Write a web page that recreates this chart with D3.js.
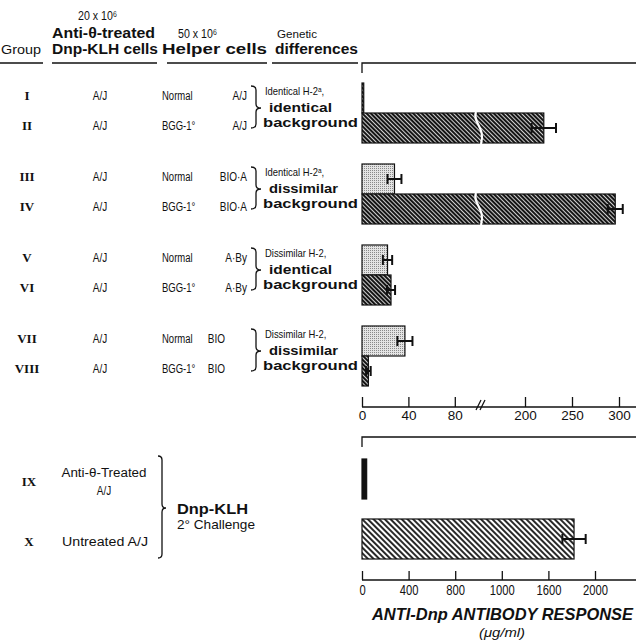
<!doctype html>
<html lang="en">
<head>
<meta charset="UTF-8" />
<title>Anti-Dnp antibody response</title>
<script src="https://d3js.org/d3.v7.min.js"></script>
<style>
  body { margin: 0; background: #fff; }
  svg { display: block; }
  .nar { font-family: "Liberation Sans", Arial, "DejaVu Sans", sans-serif; }
  .bold { font-family: "Liberation Sans", Arial, sans-serif; font-weight: bold; }
  .rom { font-family: "Liberation Serif", serif; font-weight: bold; }
</style>
</head>
<body>
<div id="graph"></div>
<script>
// ---- data ----
var groups = ["I", "II", "III", "IV", "V", "VI", "VII", "VIII"];
var donorCells = ["A/J", "A/J", "A/J", "A/J", "A/J", "A/J", "A/J", "A/J"];
var helperPrim = ["Normal", "BGG-1°", "Normal", "BGG-1°", "Normal", "BGG-1°", "Normal", "BGG-1°"];
var helperStrain = ["A/J", "A/J", "BIO·A", "BIO·A", "A·By", "A·By", "BIO", "BIO"];
var response = [1.5, 220, 28, 296, 22, 25, 37, 5.5];
var sem = [0, 13, 6, 8, 4, 3.5, 6.5, 2];
var barFill = ["dark", "dark", "light", "dark", "light", "dark", "light", "dark"];

var geneH2 = ["Identical H-2ᵃ,", "Identical H-2ᵃ,", "Dissimilar H-2,", "Dissimilar H-2,"];
var geneBack = ["identical", "dissimilar", "identical", "dissimilar"];

var groups2 = ["IX", "X"];
var cells2 = [["Anti-θ-Treated", "A/J"], ["Untreated   A/J"]];
var response2 = [40, 1820];
var sem2 = [0, 100];

var topTicks = [0, 40, 80, 200, 250, 300];
var botTicks = [0, 400, 800, 1200, 1600, 2000];
var botTickLabels = ["0", "400", "800", "1000", "1600", "2000"];

var width = 636, height = 644;

var svg = d3.select("#graph").append("svg")
    .attr("width", width)
    .attr("height", height);

// patterns
var defs = svg.append("defs");
var pd = defs.append("pattern").attr("id", "dark").attr("width", 3).attr("height", 3)
    .attr("patternUnits", "userSpaceOnUse").attr("patternTransform", "rotate(-45)");
pd.append("rect").attr("width", 3).attr("height", 3).attr("fill", "#151515");
pd.append("line").attr("x1", 0.5).attr("y1", 0).attr("x2", 0.5).attr("y2", 3)
    .attr("stroke", "#fff").attr("stroke-width", 0.8);

var ps = defs.append("pattern").attr("id", "stripe").attr("width", 4).attr("height", 4)
    .attr("patternUnits", "userSpaceOnUse").attr("patternTransform", "rotate(-45)");
ps.append("rect").attr("width", 4).attr("height", 4).attr("fill", "#fff");
ps.append("line").attr("x1", 1).attr("y1", 0).attr("x2", 1).attr("y2", 4)
    .attr("stroke", "#111").attr("stroke-width", 1.8);

var pl = defs.append("pattern").attr("id", "light").attr("width", 2).attr("height", 2)
    .attr("patternUnits", "userSpaceOnUse");
pl.append("rect").attr("width", 2).attr("height", 2).attr("fill", "#e4e4e4");
pl.append("rect").attr("width", 1).attr("height", 1).attr("fill", "#8a8a8a");

// scales
var xTop = d3.scaleLinear().domain([0, 100, 150, 300]).range([362, 478, 478, 619]);
var xBot = d3.scaleLinear().domain([0, 2000]).range([362, 595]);

var pairs = [0, 1, 2, 3];
var yPair = d3.scaleBand().domain(pairs).range([83, 386]).paddingInner(21 / 81);
var ySub = d3.scaleBand().domain([0, 1]).range([0, yPair.bandwidth()]);
function rowY(i) { return yPair(Math.floor(i / 2)) + ySub(i % 2); }
var bh = ySub.bandwidth();

var yBot = d3.scaleBand().domain([0, 1]).range([459, 559]).paddingInner(1 / 3);

// squeeze a text horizontally (the figure uses a condensed face)
function squeeze(t, f) {
  var n = t.node().getComputedTextLength();
  t.attr("textLength", n * f).attr("lengthAdjust", "spacingAndGlyphs");
}

function txt(x, y, s, cls, size, opts) {
  opts = opts || {};
  var t = svg.append("text").attr("x", x).attr("y", y).attr("class", cls)
      .attr("font-size", size).attr("fill", "#111").text(s);
  if (opts.anchor) t.attr("text-anchor", opts.anchor);
  if (opts.italic) t.attr("font-style", "italic");
  if (opts.len) t.attr("textLength", opts.len).attr("lengthAdjust", "spacingAndGlyphs");
  else if (cls === "nar") squeeze(t, opts.sq || 0.8);
  return t;
}

function brace(x, y0, y1, ym, w) {
  var h = w / 2, r = 4;
  var p = "M" + x + "," + y0 +
    " Q" + (x + h) + "," + y0 + " " + (x + h) + "," + (y0 + r) +
    " L" + (x + h) + "," + (ym - r) +
    " Q" + (x + h) + "," + ym + " " + (x + w) + "," + ym +
    " Q" + (x + h) + "," + ym + " " + (x + h) + "," + (ym + r) +
    " L" + (x + h) + "," + (y1 - r) +
    " Q" + (x + h) + "," + y1 + " " + x + "," + y1;
  svg.append("path").attr("d", p).attr("fill", "none").attr("stroke", "#111").attr("stroke-width", 1.3);
}

// ---- header ----
txt(78, 20, "20 x 10⁶", "nar", 12.5, { sq: 0.85 });
txt(52, 38, "Anti-θ-treated", "bold", 14.5, { len: 103 });
txt(52, 54, "Dnp-KLH cells", "bold", 14.5, { len: 106 });
txt(178, 38, "50 x 10⁶", "nar", 12.5, { sq: 0.85 });
txt(162, 54, "Helper cells", "bold", 14.5, { len: 105 });
txt(277, 38, "Genetic", "nar", 11.5, { len: 40 });
txt(275, 54, "differences", "bold", 14.5, { len: 83 });
txt(1, 54, "Group", "nar", 12.5, { len: 40 });

[[0, 43], [52, 157], [167, 267], [272, 358]].forEach(function(u) {
  svg.append("line").attr("x1", u[0]).attr("x2", u[1]).attr("y1", 63).attr("y2", 63)
    .attr("stroke", "#111").attr("stroke-width", 1.3);
});

// ---- top panel rows ----
groups.forEach(function(g, i) {
  var cy = rowY(i) + bh / 2;
  txt(27, cy + 2, g, "rom", 13, { anchor: "middle" });
  txt(100, cy + 2, donorCells[i], "nar", 12.5, { anchor: "middle" });
  txt(162, cy + 2, helperPrim[i], "nar", 12.5, { sq: 0.76 });
  txt(helperStrain[i] === "BIO" ? 225 : 247, cy + 2, helperStrain[i], "nar", 12.5, { anchor: "end" });
});

pairs.forEach(function(p) {
  var y0 = yPair(p), mid = y0 + yPair.bandwidth() / 2;
  brace(251, y0 + 3, y0 + yPair.bandwidth() - 15, mid - 5, 10);
  txt(265, mid - 18, geneH2[p], "nar", 11.5, { sq: 0.82 });
  txt(269, mid - 1, geneBack[p], "bold", 13, { len: geneBack[p] === "identical" ? 63 : 69 });
  txt(263, mid + 14, "background", "bold", 13, { len: 95 });
});

// bracket above top panel
svg.append("path").attr("d", "M362,73 V63 H636").attr("fill", "none")
  .attr("stroke", "#111").attr("stroke-width", 1.3);

// bars
var bars = svg.append("g");
bars.selectAll("rect").data(response).enter().append("rect")
  .attr("x", xTop(0))
  .attr("y", function(d, i) { return rowY(i); })
  .attr("width", function(d) { return xTop(d) - xTop(0); })
  .attr("height", bh)
  .attr("fill", function(d, i) { return "url(#" + barFill[i] + ")"; })
  .attr("stroke", "#111")
  .attr("stroke-width", 1.2);

// axis break through long bars
response.forEach(function(d, i) {
  if (d > 150) {
    var y0 = rowY(i) - 1, y1 = rowY(i) + bh + 1, x = xTop(125);
    svg.append("path")
      .attr("d", "M" + (x - 2) + "," + y0 + " C" + (x - 6) + "," + (y0 + 10) + " " + (x + 8) + "," + (y0 + 16) + " " + (x + 3) + "," + y1)
      .attr("fill", "none").attr("stroke", "#fff").attr("stroke-width", 2.2);
  }
});

// error bars
function errBar(x0, x1, y) {
  var g = svg.append("g").attr("stroke", "#111").attr("stroke-width", 2);
  g.append("line").attr("x1", x0).attr("x2", x1).attr("y1", y).attr("y2", y);
  g.append("line").attr("x1", x0).attr("x2", x0).attr("y1", y - 5).attr("y2", y + 5);
  g.append("line").attr("x1", x1).attr("x2", x1).attr("y1", y - 5).attr("y2", y + 5);
}
response.forEach(function(d, i) {
  if (sem[i] > 0) errBar(xTop(d - sem[i]), xTop(d + sem[i]), rowY(i) + bh / 2);
});

// top axis
var axTop = svg.append("g").attr("transform", "translate(0,407)")
  .call(d3.axisBottom(xTop).tickValues(topTicks).tickSize(-10).tickPadding(3).tickFormat(d3.format("d")));
axTop.select(".domain").remove();
axTop.selectAll("line").attr("stroke", "#111").attr("stroke-width", 1.3);
axTop.selectAll("text").attr("font-family", "Liberation Sans, sans-serif").attr("font-size", 13.5).attr("fill", "#111");
svg.append("line").attr("x1", 362).attr("x2", 636).attr("y1", 407).attr("y2", 407)
  .attr("stroke", "#111").attr("stroke-width", 1.3);
[0, 4].forEach(function(o) {
  svg.append("line").attr("x1", 476 + o).attr("y1", 410).attr("x2", 481 + o).attr("y2", 400)
    .attr("stroke", "#111").attr("stroke-width", 1.2);
});

// ---- bottom panel ----
svg.append("path").attr("d", "M362,447 V437 H636").attr("fill", "none")
  .attr("stroke", "#111").attr("stroke-width", 1.3);

groups2.forEach(function(g, i) {
  var cy = yBot(i) + yBot.bandwidth() / 2;
  txt(29, cy + 7, g, "rom", 13, { anchor: "middle" });
});
txt(104, 477, cells2[0][0], "nar", 12.5, { anchor: "middle", len: 85 });
txt(104, 495, cells2[0][1], "nar", 12.5, { anchor: "middle" });
txt(62, 546, cells2[1][0], "nar", 12.5, { len: 86 });
brace(158, 456, 558, 508, 8);
txt(177, 514, "Dnp-KLH", "bold", 15.5, { len: 71 });
txt(177, 529, "2° Challenge", "nar", 13, { len: 78 });

svg.append("g").selectAll("rect").data(response2).enter().append("rect")
  .attr("x", xBot(0))
  .attr("y", function(d, i) { return yBot(i); })
  .attr("width", function(d) { return xBot(d) - xBot(0); })
  .attr("height", yBot.bandwidth())
  .attr("fill", function(d, i) { return i === 0 ? "#111" : "url(#stripe)"; })
  .attr("stroke", "#111")
  .attr("stroke-width", 1.2);

response2.forEach(function(d, i) {
  if (sem2[i] > 0) errBar(xBot(d - sem2[i]), xBot(d + sem2[i]), yBot(i) + yBot.bandwidth() / 2);
});

var axBot = svg.append("g").attr("transform", "translate(0,580)")
  .call(d3.axisBottom(xBot).tickValues(botTicks).tickSize(-9).tickPadding(5)
    .tickFormat(function(d, i) { return botTickLabels[i]; }));
axBot.select(".domain").remove();
axBot.selectAll("line").attr("stroke", "#111").attr("stroke-width", 1.3);
axBot.selectAll("text").attr("font-family", "Liberation Sans, sans-serif").attr("font-size", 14).attr("fill", "#111")
  .each(function() { squeeze(d3.select(this), 0.8); });
svg.append("line").attr("x1", 362).attr("x2", 636).attr("y1", 580).attr("y2", 580)
  .attr("stroke", "#111").attr("stroke-width", 1.3);

txt(372, 620, "ANTI-Dnp ANTIBODY RESPONSE", "bold", 16.5, { italic: true, len: 261 });
txt(502, 637, "(μg/ml)", "nar", 13, { anchor: "middle", italic: true, len: 46 });
</script>
</body>
</html>
